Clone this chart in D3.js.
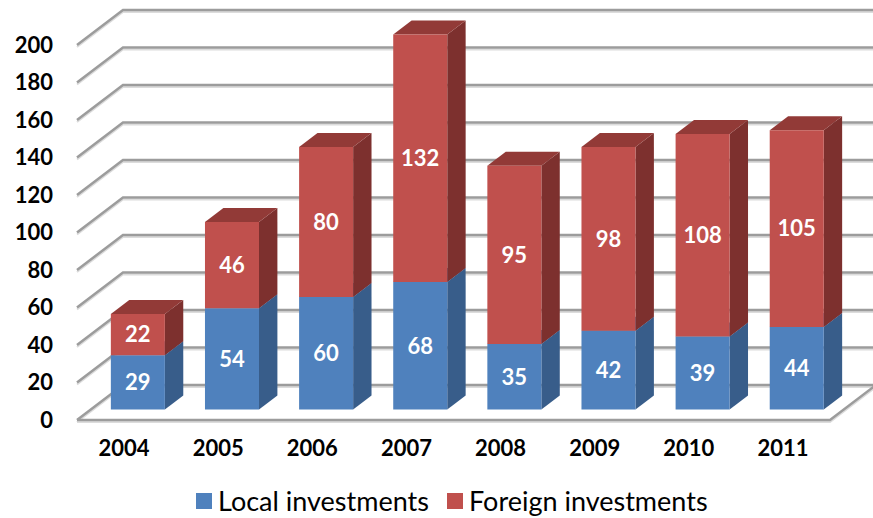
<!DOCTYPE html>
<html>
<head>
<meta charset="utf-8">
<script src="https://cdn.jsdelivr.net/npm/d3@7"></script>
<style>
  body { margin: 0; background: #fff; }
  svg { display: block; }
</style>
</head>
<body>
<svg width="873" height="518"></svg>
<script>
// data
var years = ['2004', '2005', '2006', '2007', '2008', '2009', '2010', '2011'];
var local = [29, 54, 60, 68, 35, 42, 39, 44];
var foreign = [22, 46, 80, 132, 95, 98, 108, 105];
var yTicks = [0, 20, 40, 60, 80, 100, 120, 140, 160, 180, 200];
var seriesNames = ['Local investments', 'Foreign investments'];

var svg = d3.select('svg');

// depth vector of the floor (oblique 3d look)
var depthX = 46, depthY = -35;
var zFront = 0.3, zBack = 0.7;

var x = d3.scaleBand()
    .domain(years)
    .range([77, 830])
    .paddingInner(0.426)
    .paddingOuter(0.213);

var y = d3.scaleLinear()
    .domain([0, 200])
    .range([420, 45]);

function pt(px, v, z) {
    return [px + depthX * z, y(v) + depthY * z];
}

var grid = svg.append('g');

// back wall + left wall gridlines
yTicks.forEach(function(v) {
    var a = pt(77, v, 0), b = pt(77, v, 1), c = pt(880, v, 1);
    var d = 'M' + a + 'L' + b + 'L' + c;
    grid.append('path').attr('d', d).attr('fill', 'none')
        .attr('stroke', '#dcdcdc').attr('stroke-width', 2)
        .attr('transform', 'translate(0,2)');
    grid.append('path').attr('d', d).attr('fill', 'none')
        .attr('stroke', '#9c9c9c').attr('stroke-width', 2.5);
});

// floor front edge
var f1 = pt(77, 0, 0), f2 = pt(830, 0, 0), f3 = pt(830, 0, 1);
grid.append('path').attr('d', 'M' + f1 + 'L' + f2 + 'L' + f3)
    .attr('fill', 'none').attr('stroke', '#dcdcdc').attr('stroke-width', 2)
    .attr('transform', 'translate(0,2)');
grid.append('path').attr('d', 'M' + f1 + 'L' + f2 + 'L' + f3)
    .attr('fill', 'none').attr('stroke', '#9c9c9c').attr('stroke-width', 2.5);

// stacked segments
var stack = [];
years.forEach(function(yr, i) {
    stack.push({ year: yr, v0: 0, v1: local[i], val: local[i], s: 0 });
    stack.push({ year: yr, v0: local[i], v1: local[i] + foreign[i], val: foreign[i], s: 1 });
});

var colors = [
    { front: '#4f81bd', side: '#385d8a', top: '#4a76ab' },
    { front: '#c0504d', side: '#7d302e', top: '#923a37' }
];

function poly(pts) {
    return 'M' + pts.join('L') + 'Z';
}

var bars = svg.append('g');
stack.forEach(function(d) {
    var x0 = x(d.year), x1 = x0 + x.bandwidth();
    var c = colors[d.s];
    var front = [pt(x0, d.v0, zFront), pt(x1, d.v0, zFront), pt(x1, d.v1, zFront), pt(x0, d.v1, zFront)];
    var side = [pt(x1, d.v0, zFront), pt(x1, d.v0, zBack), pt(x1, d.v1, zBack), pt(x1, d.v1, zFront)];
    var top = [pt(x0, d.v1, zFront), pt(x1, d.v1, zFront), pt(x1, d.v1, zBack), pt(x0, d.v1, zBack)];
    bars.append('path').attr('d', poly(side)).attr('fill', c.side);
    bars.append('path').attr('d', poly(top)).attr('fill', c.top);
    bars.append('path').attr('d', poly(front)).attr('fill', c.front);
});

// value labels
svg.append('g').selectAll('text')
    .data(stack)
    .enter()
    .append('text')
    .attr('x', function(d) { return pt(x(d.year) + x.bandwidth() / 2, 0, zFront)[0]; })
    .attr('y', function(d) { return pt(0, (d.v0 + d.v1) / 2, zFront)[1]; })
    .attr('dy', '0.36em')
    .attr('text-anchor', 'middle')
    .style('font-family', 'Lato, sans-serif')
    .style('font-weight', 'bold')
    .style('font-size', '22px')
    .attr('fill', '#fff')
    .text(function(d) { return d.val; });

// y axis labels
svg.append('g').selectAll('text')
    .data(yTicks)
    .enter()
    .append('text')
    .attr('x', 53)
    .attr('y', function(d) { return y(d); })
    .attr('dy', '0.36em')
    .attr('text-anchor', 'end')
    .style('font-family', 'Lato, sans-serif')
    .style('font-weight', 'bold')
    .style('font-size', '22px')
    .attr('fill', '#000')
    .text(function(d) { return d; });

// x axis labels
svg.append('g').selectAll('text')
    .data(years)
    .enter()
    .append('text')
    .attr('x', function(d) { return x(d) + x.bandwidth() / 2; })
    .attr('y', 448)
    .attr('dy', '0.36em')
    .attr('text-anchor', 'middle')
    .style('font-family', 'Lato, sans-serif')
    .style('font-weight', 'bold')
    .style('font-size', '22px')
    .attr('fill', '#000')
    .text(function(d) { return d; });

// legend
var legendX = [196, 447];
var legend = svg.append('g');
seriesNames.forEach(function(name, i) {
    legend.append('rect')
        .attr('x', legendX[i]).attr('y', 493)
        .attr('width', 16).attr('height', 16)
        .attr('fill', colors[i].front);
    legend.append('text')
        .attr('x', legendX[i] + 22).attr('y', 501)
        .attr('dy', '0.36em')
        .style('font-family', 'Lato, sans-serif')
        .style('font-size', '27px')
        .attr('fill', '#000')
        .text(name);
});
</script>
</body>
</html>
